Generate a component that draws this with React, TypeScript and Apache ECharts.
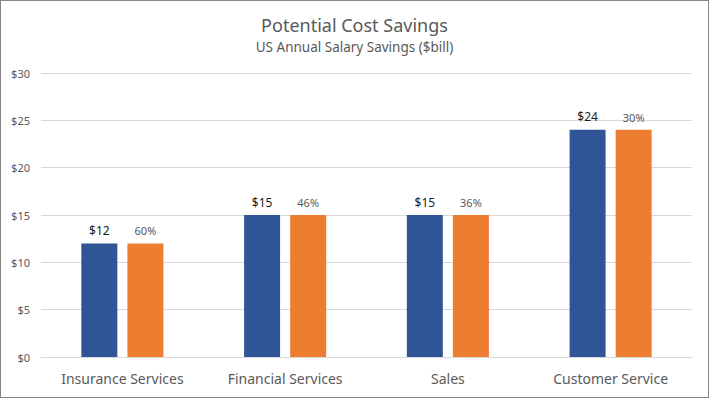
import React, { useEffect, useRef } from "react";
import * as echarts from "echarts";

const categories = ["Insurance Services", "Financial Services", "Sales", "Customer Service"];
const savings = [12, 15, 15, 24];
const percentLabels = ["60%", "46%", "36%", "30%"];
const yTicks = [0, 5, 10, 15, 20, 25, 30];

export default function App() {
  const ref = useRef<HTMLDivElement>(null);
  useEffect(() => {
    document.body.style.margin = "0";
    const chart = echarts.init(ref.current!, undefined, { renderer: "svg" });
    const font = "'Noto Sans', sans-serif";
    chart.setOption({
      animation: false,
      textStyle: { fontFamily: font },
      title: {
        text: "Potential Cost Savings",
        subtext: "US Annual Salary Savings ($bill)",
        left: "center",
        top: 10,
        itemGap: 6,
        textStyle: { fontSize: 18, fontWeight: "normal", color: "#595959", fontFamily: font },
        subtextStyle: { fontSize: 13.5, color: "#595959", fontFamily: font },
      },
      grid: { left: 40, right: 16, top: 72, bottom: 40, containLabel: false },
      xAxis: {
        type: "category",
        data: categories,
        axisLine: { lineStyle: { color: "#d9d9d9" } },
        axisTick: { show: false },
        axisLabel: { color: "#595959", fontSize: 14, margin: 14, fontFamily: font },
      },
      yAxis: {
        type: "value",
        min: yTicks[0],
        max: yTicks[yTicks.length - 1],
        interval: 5,
        axisLine: { show: false },
        axisTick: { show: false },
        splitLine: { lineStyle: { color: "#d9d9d9" } },
        axisLabel: { color: "#595959", fontSize: 11, formatter: (v: number) => "$" + v, margin: 11, fontFamily: font },
      },
      series: [
        {
          type: "bar",
          data: savings,
          barWidth: 36,
          barGap: "28%",
          itemStyle: { color: "#2F5597" },
          label: {
            show: true,
            position: "top",
            distance: 7,
            color: "#1a1a1a",
            fontSize: 12,
            fontFamily: font,
            formatter: (p: any) => "$" + p.value,
          },
        },
        {
          type: "bar",
          data: savings,
          barWidth: 36,
          itemStyle: { color: "#ED7D31" },
          label: {
            show: true,
            position: "top",
            distance: 7,
            color: "#595959",
            fontSize: 11,
            fontFamily: font,
            formatter: (p: any) => percentLabels[p.dataIndex],
          },
        },
      ],
    });
    return () => chart.dispose();
  }, []);
  return (
    <div
      ref={ref}
      style={{
        position: "absolute",
        left: 0,
        top: 0,
        width: 709,
        height: 398,
        boxSizing: "border-box",
        border: "1px solid #868686",
        background: "#fff",
      }}
    />
  );
}
